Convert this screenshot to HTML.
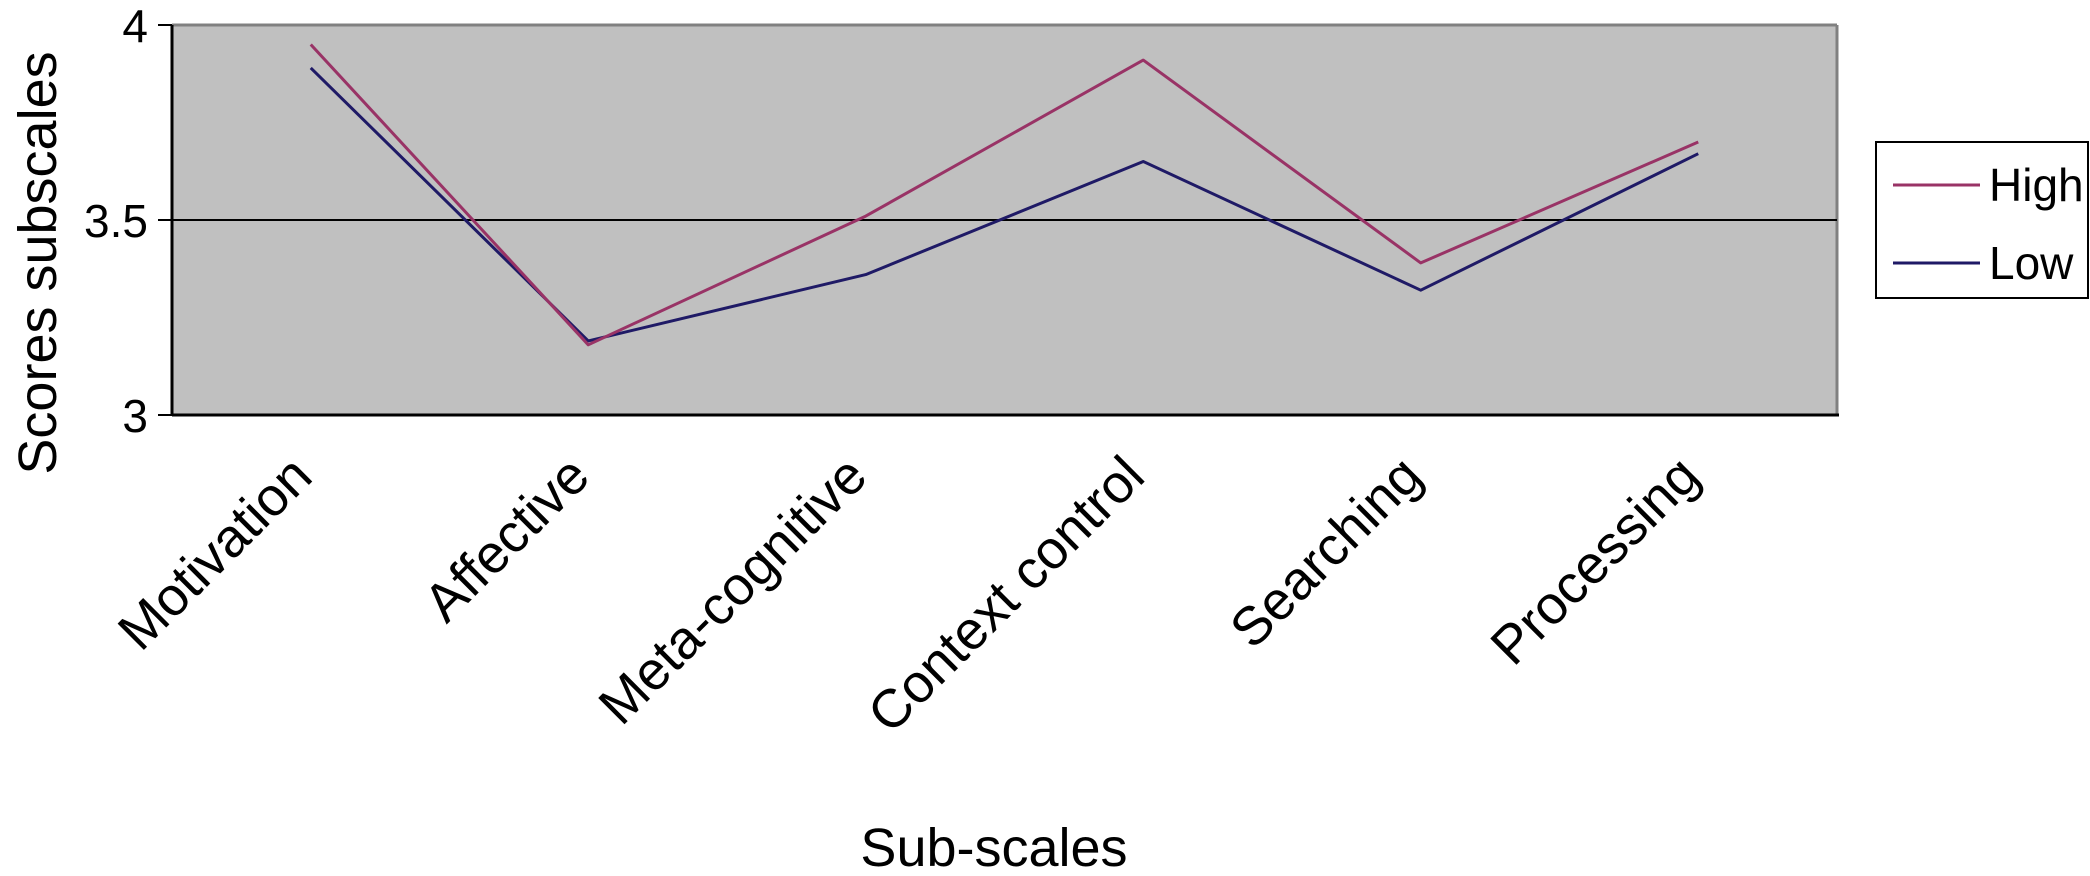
<!DOCTYPE html>
<html><head><meta charset="utf-8"><style>
body{margin:0;background:#fff}
svg{display:block;font-family:"Liberation Sans",Arial,sans-serif}
</style></head><body>
<svg id="chart" width="2090" height="876" viewBox="0 0 2090 876" xmlns="http://www.w3.org/2000/svg">
<rect x="172" y="25" width="1665" height="390" fill="#c0c0c0"/>
<line x1="172" y1="25" x2="1837" y2="25" stroke="#808080" stroke-width="3"/>
<line x1="1837" y1="25" x2="1837" y2="415" stroke="#808080" stroke-width="3"/>
<g id="grid"></g>
<g id="series"></g>
<g id="axes"></g>
<text transform="translate(56,263) rotate(-90)" text-anchor="middle" font-size="54">Scores subscales</text>
<text x="994" y="866" text-anchor="middle" font-size="54">Sub-scales</text>
<g>
<rect x="1876" y="142" width="212" height="156" fill="#fff" stroke="#000" stroke-width="2"/>
<line x1="1893" y1="185" x2="1980" y2="185" stroke="#993366" stroke-width="3"/>
<text x="1989" y="201" font-size="46">High</text>
<line x1="1893" y1="263" x2="1980" y2="263" stroke="#1f1a66" stroke-width="3"/>
<text x="1989" y="279" font-size="46">Low</text>
</g>
</svg>
<script>
const categories = ["Motivation","Affective","Meta-cognitive","Context control","Searching","Processing"];
const highValues = [3.95,3.18,3.51,3.91,3.39,3.70];
const lowValues = [3.89,3.19,3.36,3.65,3.32,3.67];
const yTicks = [3,3.5,4];
const yTickLabels = ["3","3.5","4"];

const NS="http://www.w3.org/2000/svg";
const L=172,R=1837,T=25,B=415,yMin=3,yMax=4;
const xScale=i=>L+(R-L)/categories.length*(i+0.5);
const yScale=v=>B-(v-yMin)/(yMax-yMin)*(B-T);
function mk(tag,attrs,parent){const e=document.createElementNS(NS,tag);for(const k in attrs)e.setAttribute(k,attrs[k]);parent.appendChild(e);return e;}
const grid=document.getElementById('grid'),series=document.getElementById('series'),axes=document.getElementById('axes');
yTicks.forEach((v,i)=>{
  const y=yScale(v);
  if(v>yMin&&v<yMax){const g=mk('line',{x1:L,x2:R,y1:y,y2:y,stroke:'#000','stroke-width':2},grid);
  
  }
  const t=mk('line',{x1:L-14,x2:L,y1:y,y2:y,stroke:'#000','stroke-width':2},axes);
  
  
  const lb=mk('text',{x:L-24,y:y+17,'text-anchor':'end','font-size':46},axes);
  lb.textContent=yTickLabels[i];
  
  
});
const ya=mk('line',{x1:L,x2:L,y1:T,y2:B+1,stroke:'#000','stroke-width':3},axes);


const xa=mk('line',{x1:L,x2:R+2,y1:B,y2:B,stroke:'#000','stroke-width':3},axes);


categories.forEach((c,i)=>{
  const x=xScale(i);
  const lb=mk('text',{transform:`translate(${x+4},${B+64}) rotate(-45)`,'text-anchor':'end','font-size':54},axes);
  lb.textContent=c;
  
  
});
function line(vals,color,name){
  const p=mk('polyline',{points:vals.map((v,i)=>xScale(i)+','+yScale(v)).join(' '),fill:'none',stroke:color,'stroke-width':3,'stroke-linejoin':'round'},series);
  
  
}
line(lowValues,'#1f1a66','series-low-line');
line(highValues,'#993366','series-high-line');
</script>
</body></html>
